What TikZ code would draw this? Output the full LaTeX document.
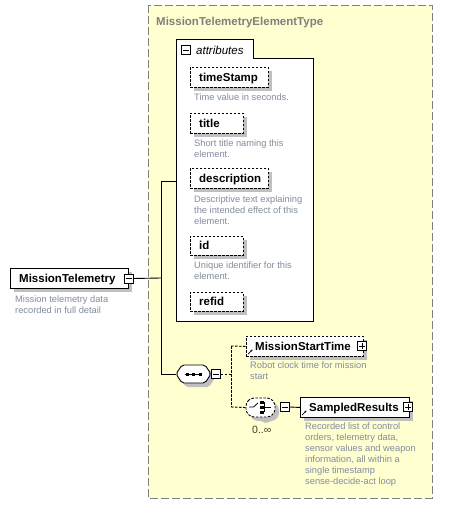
\documentclass[tikz,border=0pt]{standalone}
\usepackage{fontspec}
\setmainfont{Liberation Sans}
\usetikzlibrary{arrows.meta}
\definecolor{ybg}{RGB}{255,255,208}
\definecolor{ybd}{RGB}{128,128,128}
\definecolor{desctext}{RGB}{130,140,160}
\definecolor{shd}{RGB}{192,192,192}
\tikzset{
  boxline/.style={line width=0.9pt},
  elembox/.style={boxline, draw, fill=white, inner sep=0, anchor=north west},
  optbox/.style={elembox, dash pattern=on 2.5pt off 1.5pt},
  shadowbox/.style={fill=shd, draw=none},
  nametext/.style={anchor=base west, inner sep=0, font=\bfseries\fontsize{11.5}{13}\selectfont},
  desc/.style={anchor=north west, inner sep=0, align=left, text=desctext, font=\fontsize{9.3}{11}\selectfont},
  pmbox/.style={draw, fill=white, minimum size=9pt, inner sep=0, line width=0.6pt},
  conn/.style={line width=0.9pt},
  dconn/.style={line width=0.9pt, dash pattern=on 2.5pt off 1.5pt},
  refarrow/.style={line width=0.7pt, -{Stealth[length=2.2pt,width=2.2pt]}}
}
\newcommand\minusicon[2]{\node[pmbox] (#1) at (#2) {};
  \draw[line width=0.7pt] ([xshift=1.8pt]#1.west) -- ([xshift=-1.8pt]#1.east);}
\newcommand\plusicon[2]{\node[pmbox] (#1) at (#2) {};
  \draw[line width=0.7pt] ([xshift=1.8pt]#1.west) -- ([xshift=-1.8pt]#1.east);
  \draw[line width=0.7pt] ([yshift=-1.8pt]#1.north) -- ([yshift=1.8pt]#1.south);}
\begin{document}
\begin{tikzpicture}[x=1pt,y=-1pt]
\useasboundingbox (0,0) rectangle (455,506);
\fill[white] (0,0) rectangle (455,506);

% complex type region
\draw[fill=ybg, draw=ybd, line width=1pt, dash pattern=on 8pt off 3pt] (148,5) rectangle (432,498);
\node[anchor=base west, inner sep=0, text=ybd, font=\bfseries\fontsize{11.5}{13}\selectfont] (ctname) at (156,25) {MissionTelemetryElementType};

% attributes box
\draw[fill=white, line width=1pt] (176,321) -- (176,39) -- (253,39) -- (253,58) -- (313,58) -- (313,321) -- cycle;
\node[minimum width=137pt, minimum height=263pt, anchor=north west, inner sep=0] (attr) at (176,58) {};
\minusicon{attrm}{186,50}
\node[anchor=base west, inner sep=0, font=\itshape\fontsize{11.5}{13}\selectfont] (attrlbl) at (196,54) {attributes};

% attributes
\fill[shadowbox] (194,71) rectangle (272,91);
\node[optbox, minimum width=78pt, minimum height=20pt] (ts) at (190,67) {};
\node[nametext] (tst) at (199,81) {timeStamp};
\node[desc] (tsd) at (194,94) {Time value in seconds.};

\fill[shadowbox] (194,117) rectangle (247,137);
\node[optbox, minimum width=53pt, minimum height=20pt] (ti) at (190,113) {};
\node[nametext] (tit) at (199,127) {title};
\node[desc] (tid) at (194,140) {Short title naming this\\element.};

\fill[shadowbox] (194,172) rectangle (272,192);
\node[optbox, minimum width=78pt, minimum height=20pt] (de) at (190,168) {};
\node[nametext] (det) at (199,182) {description};
\node[desc] (ded) at (194,196) {Descriptive text explaining\\the intended effect of this\\element.};

\fill[shadowbox] (194,240) rectangle (247,259);
\node[optbox, minimum width=53pt, minimum height=19pt] (id) at (190,236) {};
\node[nametext] (idt) at (199,249.5) {id};
\node[desc] (idd) at (194,262) {Unique identifier for this\\element.};

\fill[shadowbox] (194,296) rectangle (247,315);
\node[optbox, minimum width=53pt, minimum height=19pt] (rf) at (190,292) {};
\node[nametext] (rft) at (199,305.5) {refid};

% root element
\fill[shadowbox] (14,272) rectangle (132,292);
\node[elembox, minimum width=118pt, minimum height=20pt] (mt) at (10,268) {};
\node[nametext] (mtt) at (19,282) {MissionTelemetry};
\minusicon{mtm}{128.5,278.5}
\node[desc] (mtd) at (15,296) {Mission telemetry data\\recorded in full detail};

% sequence compositor
\fill[shadowbox, rounded corners=2pt] (180,378) -- (186,369) -- (209,369) -- (215,378) -- (209,387) -- (186,387) -- cycle;
\draw[fill=white, line width=0.9pt, rounded corners=2pt] (176,374) -- (182,365) -- (205,365) -- (211,374) -- (205,383) -- (182,383) -- cycle;
\node[minimum width=35pt, minimum height=18pt, inner sep=0] (seq) at (193.5,374) {};
\draw[line width=0.8pt] (185,374) -- (202,374);
\foreach \sx in {187,193.5,200} \fill (\sx-1.5,372.5) rectangle (\sx+1.5,375.5);
\minusicon{seqm}{216,374}

% connectors from root
\coordinate (jroot) at (161,278);
\coordinate (jtop) at (161,181);
\coordinate (jbot) at (161,374);
\draw[conn] (mtm.east) -- (jroot);
\draw[conn] (jtop) -- (jbot);
\draw[conn] (jtop) -- (jtop -| attr.west);
\draw[conn] (jbot) -- (seq.west);

% sequence branches
\coordinate (sj) at (231,374);
\coordinate (sjt) at (231,346);
\coordinate (sjb) at (231,407);
\draw[dconn] (seqm.east) -- (sj);
\draw[dconn] (sjt) -- (sjb);

% MissionStartTime
\fill[shadowbox] (250,340) rectangle (367,360);
\node[optbox, minimum width=117pt, minimum height=20pt] (mst) at (246,336) {};
\node[nametext] (mstt) at (255,350) {MissionStartTime};
\plusicon{mstp}{362,346}
\draw[refarrow] (248,354) -- (252.5,349.5);
\node[desc] (mstd) at (250,362) {Robot clock time for mission\\start};
\draw[dconn] (sjt) -- (mst.west);

% choice compositor
\fill[shadowbox, rounded corners=3pt] (250,407) -- (255,402) -- (274,402) -- (279,407) -- (279,416) -- (274,421) -- (269,421) -- (266,424) -- (263,421) -- (255,421) -- (250,416) -- cycle;
\draw[fill=white, line width=0.9pt, dash pattern=on 2.5pt off 1.5pt, rounded corners=3pt] (246,403) -- (251,398) -- (270,398) -- (275,403) -- (275,412) -- (270,417) -- (251,417) -- (246,412) -- cycle;
\node[minimum width=29pt, minimum height=19pt, inner sep=0] (ch) at (260.5,407.5) {};
\draw[line width=0.8pt] (249,407) -- (253.5,407) -- (258,403);
\draw[line width=0.8pt] (264.5,402) -- (264.5,412);
\draw[line width=0.8pt] (264.5,407) -- (271,407);
\foreach \sy in {402,407,412} \fill (260,\sy-1.5) rectangle (264,\sy+1.5);
\minusicon{chm}{285,407}
\node[anchor=base west, inner sep=0, text={rgb,255:red,60;green,60;blue,30}, font=\fontsize{10.5}{12}\selectfont] (chocc) at (252,433.5) {0..∞};
\draw[dconn] (sjb) -- (ch.west);

% SampledResults
\fill[shadowbox] (304,401) rectangle (413,421);
\node[elembox, minimum width=109pt, minimum height=20pt] (sr) at (300,397) {};
\node[nametext] (srt) at (309,411) {SampledResults};
\plusicon{srp}{408,407}
\draw[refarrow] (302,415) -- (306.5,410.5);
\node[desc] (srd) at (305,423) {Recorded list of control\\orders, telemetry data,\\sensor values and weapon\\information, all within a\\single timestamp\\sense-decide-act loop};
\draw[conn] (chm.east) -- (sr.west);
\end{tikzpicture}
\end{document}
